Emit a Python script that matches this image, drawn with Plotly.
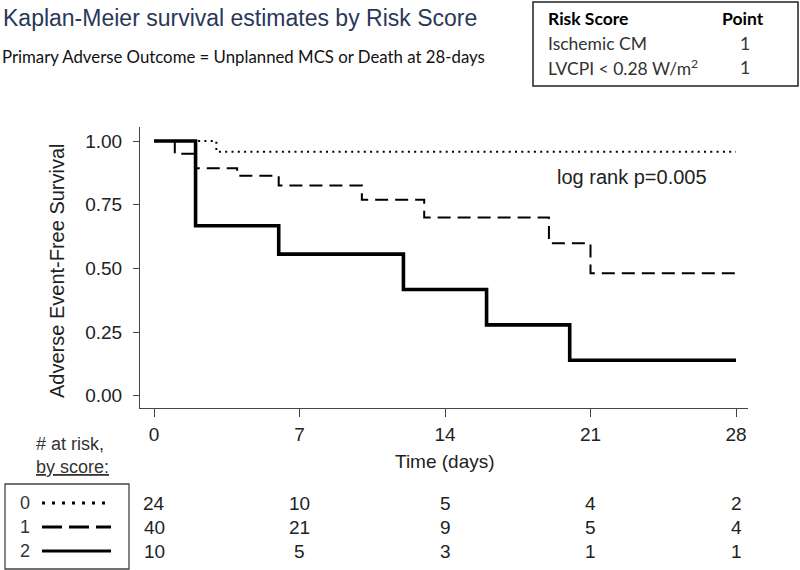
import plotly.graph_objects as go

# ---- data ----
score0_t = [0, 3, 28]
score0_s = [1.0, 0.958, 0.958]
score1_t = [0, 1, 2, 4, 6, 10, 13, 19, 21, 28]
score1_s = [1.0, 0.95, 0.893, 0.864, 0.825, 0.769, 0.70, 0.599, 0.481, 0.481]
score2_t = [0, 2, 6, 12, 16, 20, 28]
score2_s = [1.0, 0.667, 0.556, 0.417, 0.278, 0.139, 0.139]

risk_days = [0, 7, 14, 21, 28]
risk_n0 = [24, 10, 5, 4, 2]
risk_n1 = [40, 21, 9, 5, 4]
risk_n2 = [10, 5, 3, 1, 1]

x_ticks = [0, 7, 14, 21, 28]
y_ticks = [0.0, 0.25, 0.5, 0.75, 1.0]
y_ticklabels = ["0.00", "0.25", "0.50", "0.75", "1.00"]

# ---- layout geometry (pixels) ----
Wd, Ht = 800, 570
L, R, T, B = 140, 748, 127, 408
PW, PH = R - L, B - T


def px(x):
    return (x - L) / PW


def py(y):
    return (B - y) / PH


AX = "#444444"
TXT = "#222222"
ARIAL = "Liberation Sans, Arial, sans-serif"
CAL = "Lato, Open Sans, sans-serif"

fig = go.Figure()
fig.add_trace(go.Scatter(x=score2_t, y=score2_s, mode="lines", line_shape="hv",
                         line=dict(color="black", width=3.6), name="2"))
fig.add_trace(go.Scatter(x=score1_t, y=score1_s, mode="lines", line_shape="hv",
                         line=dict(color="black", width=2, dash="13px,7px"), name="1"))
fig.add_trace(go.Scatter(x=score0_t, y=score0_s, mode="lines", line_shape="hv",
                         line=dict(color="black", width=2, dash="2px,4.3px"), name="0"))

ann = []
shapes = []

# titles
ann.append(dict(xref="paper", yref="paper", x=px(1), y=py(18), xanchor="left", yanchor="middle",
                text="Kaplan-Meier survival estimates by Risk Score", showarrow=False,
                font=dict(family=ARIAL, size=23, color="#2a3858")))
ann.append(dict(xref="paper", yref="paper", x=px(0), y=py(57), xanchor="left", yanchor="middle",
                text="Primary Adverse Outcome = Unplanned MCS or Death at 28-days", showarrow=False,
                font=dict(family=CAL, size=16.8, color="#111111")))

# risk score box
shapes.append(dict(type="rect", xref="paper", yref="paper", x0=px(533), x1=px(798), y0=py(2), y1=py(86),
                   line=dict(color="#222222", width=1.5), fillcolor="rgba(0,0,0,0)"))
box_rows = [("<b>Risk Score</b>", "<b>Point</b>", 18),
            ("Ischemic CM", "1", 43),
            ("LVCPI &lt; 0.28 W/m<sup>2</sup>", "1", 67)]
for i, (lab, val, yy) in enumerate(box_rows):
    ann.append(dict(xref="paper", yref="paper", x=px(546), y=py(yy), xanchor="left", yanchor="middle",
                    text=lab, showarrow=False,
                    font=dict(family=CAL, size=17.5, color="#000000" if i == 0 else "#333333")))
    ann.append(dict(xref="paper", yref="paper", x=px(766) if i == 0 else px(745), y=py(yy),
                    xanchor="right" if i == 0 else "center", yanchor="middle",
                    text=val, showarrow=False,
                    font=dict(family=CAL, size=17.5, color="#000000" if i == 0 else "#333333")))

# log rank
ann.append(dict(xref="paper", yref="paper", x=px(555), y=py(177), xanchor="left", yanchor="middle",
                text="log rank p=0.005", showarrow=False, font=dict(family=ARIAL, size=20, color=TXT)))

# axis titles
ann.append(dict(xref="paper", yref="paper", x=px(57), y=py(271), xanchor="center", yanchor="middle",
                text="Adverse Event-Free Survival", textangle=-90, showarrow=False,
                font=dict(family=ARIAL, size=20, color=TXT)))
ann.append(dict(xref="x", yref="paper", x=14, y=py(461), xanchor="center", yanchor="middle",
                text="Time (days)", showarrow=False, font=dict(family=ARIAL, size=19, color=TXT)))

# at risk header
ann.append(dict(xref="paper", yref="paper", x=px(70), y=py(444), xanchor="center", yanchor="middle",
                text="# at risk,", showarrow=False, font=dict(family=ARIAL, size=18, color="#333333")))
ann.append(dict(xref="paper", yref="paper", x=px(72), y=py(467), xanchor="center", yanchor="middle",
                text="<u>by score:</u>", showarrow=False, font=dict(family=ARIAL, size=18, color="#333333")))

# legend box
shapes.append(dict(type="rect", xref="paper", yref="paper", x0=px(5), x1=px(129), y0=py(484), y1=py(569),
                   line=dict(color="#444444", width=1.3), fillcolor="rgba(0,0,0,0)"))
legend_rows = [("0", 503, "3px,7px"), ("1", 527, "20px,7px"), ("2", 551, "solid")]
for lab, yy, dsh in legend_rows:
    ann.append(dict(xref="paper", yref="paper", x=px(25), y=py(yy), xanchor="center", yanchor="middle",
                    text=lab, showarrow=False, font=dict(family=ARIAL, size=18, color="#333333")))
    shapes.append(dict(type="line", xref="paper", yref="paper", x0=px(42), x1=px(111), y0=py(yy), y1=py(yy),
                       line=dict(color="black", width=3, dash=dsh)))

# at risk numbers
for row, yy in [(risk_n0, 503), (risk_n1, 527), (risk_n2, 551)]:
    for d, n in zip(risk_days, row):
        ann.append(dict(xref="x", yref="paper", x=d, y=py(yy), xanchor="center", yanchor="middle",
                        text=str(n), showarrow=False, font=dict(family=ARIAL, size=19, color=TXT)))

# axis ranges so that day 0 -> px 154, day 28 -> px 736; 1.00 -> 141, 0.00 -> 395.7
dpp = 28 / (736 - 154)
x0 = -(154 - L) * dpp
x1 = x0 + PW * dpp
vpp = 1 / (395.7 - 141)
y1 = 1 + (141 - T) * vpp
y0 = -(B - 395.7) * vpp

fig.update_layout(
    width=Wd, height=Ht,
    margin=dict(l=L, r=Wd - R, t=T, b=Ht - B, pad=0),
    paper_bgcolor="white", plot_bgcolor="white",
    showlegend=False,
    annotations=ann, shapes=shapes,
    xaxis=dict(range=[x0, x1], tickvals=x_ticks, ticks="outside", ticklen=8, tickcolor=AX, tickwidth=1,
               showline=True, linecolor=AX, linewidth=1, showgrid=False, zeroline=False,
               tickfont=dict(family=ARIAL, size=19, color=TXT), ticklabelstandoff=1),
    yaxis=dict(range=[y0, y1], tickvals=y_ticks, ticktext=y_ticklabels, ticks="outside", ticklen=6,
               tickcolor=AX, tickwidth=1, showline=True, linecolor=AX, linewidth=1, showgrid=False,
               zeroline=False, tickfont=dict(family=ARIAL, size=19, color=TXT), ticklabelstandoff=7),
)

fig.write_html("out.html", config={"displayModeBar": False},
               post_script="document.body.style.margin='0';document.body.style.overflow='hidden';")
